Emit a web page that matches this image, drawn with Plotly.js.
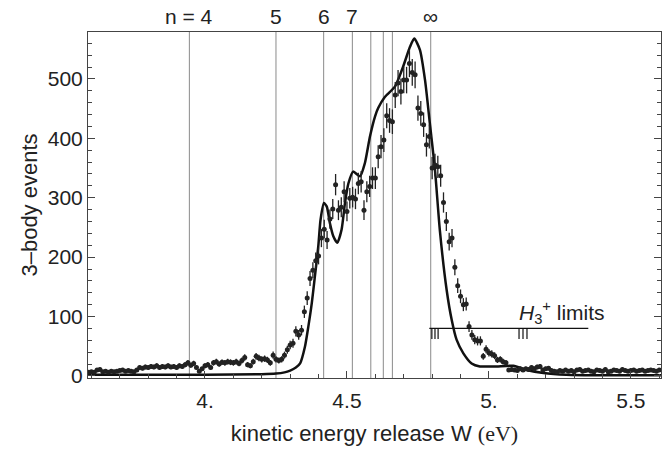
<!DOCTYPE html>
<html><head><meta charset="utf-8">
<script src="https://cdn.plot.ly/plotly-3.0.1.min.js"></script>
<style>body{margin:0;background:#fff}#chart{width:670px;height:453px}</style>
</head><body><div id="chart"></div>
<script>
// measured spectrum (kinetic energy release W in eV, counts)
var dataW = [3.59,3.60,3.61,3.62,3.63,3.64,3.65,3.66,3.67,3.68,3.69,3.70,3.71,3.72,3.73,3.74,3.75,3.76,3.77,3.78,3.79,
3.80,3.81,3.82,3.83,3.84,3.85,3.86,3.87,3.88,3.89,3.90,3.91,3.92,3.93,3.94,3.95,3.96,3.97,3.98,3.99,
4.00,4.01,4.02,4.03,4.04,4.05,4.06,4.07,4.08,4.09,4.10,4.11,4.12,4.13,4.14,4.15,4.16,4.17,4.18,4.19,
4.20,4.21,4.22,4.23,4.24,4.25,4.26,4.27,4.28,4.29,4.30,4.31,4.32,4.33,4.34,4.35,4.36,4.37,4.38,4.39,
4.40,4.41,4.42,4.43,4.44,4.45,4.46,4.47,4.48,4.49,4.50,4.51,4.52,4.53,4.54,4.55,4.56,4.57,4.58,4.59,
4.60,4.61,4.62,4.63,4.64,4.65,4.66,4.67,4.68,4.69,4.70,4.71,4.72,4.73,4.74,4.75,4.76,4.77,4.78,4.79,
4.80,4.81,4.82,4.83,4.84,4.85,4.86,4.87,4.88,4.89,4.90,4.91,4.92,4.93,4.94,4.95,4.96,4.97,4.98,4.99,
5.00,5.01,5.02,5.03,5.04,5.05,5.06,5.07,5.08,5.09,5.10,5.11,5.12,5.13,5.14,5.15,5.16,5.17,5.18,5.19,
5.20,5.21,5.22,5.23,5.24,5.25,5.26,5.27,5.28,5.29,5.30,5.31,5.32,5.33,5.34,5.35,5.36,5.37,5.38,5.39,
5.40,5.41,5.42,5.43,5.44,5.45,5.46,5.47,5.48,5.49,5.50,5.51,5.52,5.53,5.54,5.55,5.56,5.57,5.58,5.59,5.60];
var dataCounts = [6,7,6,10,11,7,8,6,8,7,8,9,10,8,9,8,7,10,14,13,15,
14,16,15,17,14,16,15,17,15,16,14,17,16,19,22,18,21,14,8,12,
17,19,14,22,24,20,23,22,24,23,22,24,21,26,31,19,17,24,33,30,
28,29,27,22,35,28,26,28,35,44,52,55,75,69,77,108,131,164,178,194,
202,232,247,229,264,281,322,279,284,310,277,299,301,298,324,327,279,310,319,333,
333,369,386,397,438,430,428,473,493,479,498,498,526,511,507,451,442,423,389,403,
350,355,352,337,292,260,226,232,183,152,134,120,121,83,69,61,59,59,33,45,
39,37,34,27,28,24,22,10,11,10,9,12,10,12,11,14,12,15,16,10,
12,13,9,8,7,9,8,10,8,9,7,10,11,8,9,10,8,7,10,9,
8,11,7,8,10,9,8,11,9,8,9,10,8,9,10,8,9,10,9,8,10];

// model curve
var modelW = [3.58,3.80,4.00,4.20,4.25,4.28,4.30,4.32,4.335,4.352,4.364,4.376,4.387,4.399,4.407,4.419,4.429,4.440,4.452,4.466,4.481,4.493,4.505,4.522,4.546,4.563,4.581,4.599,4.610,4.634,4.669,4.698,4.722,4.737,4.757,4.775,4.792,4.810,4.827,4.851,4.869,4.886,4.910,4.939,4.968,5.000,5.027,5.086,5.133,5.192,5.273,5.40,5.61];
var modelCounts = [2,2,2,3,4,6,9,14,21,49,83,122,167,218,263,291,285,257,235,224,246,291,324,344,336,358,403,437,451,470,487,521,554,568,549,498,425,347,246,145,94,61,38,21,16,16,16,17,10,5,2,1,1];

// Rydberg thresholds
var levelW = [3.945,4.250,4.418,4.519,4.584,4.628,4.660,4.795];
var levelLabels = ["n = 4","5","6","7","∞"];
var levelLabelW = [3.945,4.250,4.418,4.519,4.795];

// H3+ limits
var h3LineW = [4.79,5.35];
var h3LineY = 80;
var h3TickW = [4.799,4.810,4.821,5.106,5.120,5.134];
var h3TickBottom = 62;

var xTickVals = [4,4.5,5,5.5];
var xTickText = ["4.","4.5","5.","5.5"];
var yTickVals = [0,100,200,300,400,500];

var FONT = 'Liberation Sans, Arial, sans-serif';

var traces = [];
traces.push({
  x: modelW, y: modelCounts, type:'scatter', mode:'lines',
  line:{color:'#111', width:2.5, shape:'spline', smoothing:0.6},
  hoverinfo:'skip'
});
traces.push({
  x: dataW, y: dataCounts, type:'scatter', mode:'markers',
  marker:{color:'#222', size:5},
  error_y:{type:'sqrt', visible:true, color:'#222', thickness:1.3, width:0}
});
traces.push({
  x: h3LineW, y: [h3LineY,h3LineY], type:'scatter', mode:'lines',
  line:{color:'#111', width:1.3}, hoverinfo:'skip'
});
h3TickW.forEach(function(w){
  traces.push({x:[w,w], y:[h3LineY,h3TickBottom], type:'scatter', mode:'lines',
    line:{color:'#111', width:1.2}, hoverinfo:'skip'});
});

var shapes = levelW.map(function(w){
  return {type:'line', xref:'x', yref:'paper', x0:w, x1:w, y0:0, y1:1,
    line:{color:'#8a8a8a', width:1}, layer:'below'};
});

var annotations = levelLabels.map(function(t,i){
  return {x: levelLabelW[i], y: 1, xref:'x', yref:'paper', yanchor:'bottom', yshift:2,
    text:t, showarrow:false, font:{size:21, color:'#222', family:FONT}};
});
annotations.push({x:5.098, y:106, xref:'x', yref:'y', xanchor:'left', yanchor:'middle',
  text:'<i>H</i><sub>3</sub><sup>+</sup> limits', showarrow:false,
  font:{size:21, color:'#222', family:FONT}});

var layout = {
  width:670, height:453,
  margin:{l:88, r:9, t:32, b:75},
  paper_bgcolor:'#fff', plot_bgcolor:'#fff',
  showlegend:false,
  font:{family:FONT, color:'#222', size:21},
  xaxis:{
    range:[3.588,5.606], showgrid:false, zeroline:false,
    showline:true, linecolor:'#444', linewidth:1, mirror:true,
    ticks:'inside', ticklen:7, tickcolor:'#444', tickwidth:1,
    tickvals:xTickVals, ticktext:xTickText, ticklabelstandoff:4,
    minor:{dtick:0.1, tick0:4, ticks:'inside', ticklen:4, tickcolor:'#444', showgrid:false},
    tickfont:{size:21},
    title:{text:'kinetic energy release W <span style="font-family:Liberation Serif, serif">(eV)</span>', font:{size:22}, standoff:14}
  },
  yaxis:{
    range:[-3.5,579], showgrid:false, zeroline:false,
    showline:true, linecolor:'#444', linewidth:1, mirror:'ticks',
    ticks:'inside', ticklen:7, tickcolor:'#444', tickwidth:1,
    tickvals:yTickVals,
    minor:{dtick:20, tick0:0, ticks:'inside', ticklen:4, tickcolor:'#444', showgrid:false},
    tickfont:{size:21},
    title:{text:'3–body events', font:{size:22}, standoff:4}
  },
  shapes:shapes,
  annotations:annotations
};

Plotly.newPlot('chart', traces, layout, {staticPlot:true, displayModeBar:false});
</script>
</body></html>
